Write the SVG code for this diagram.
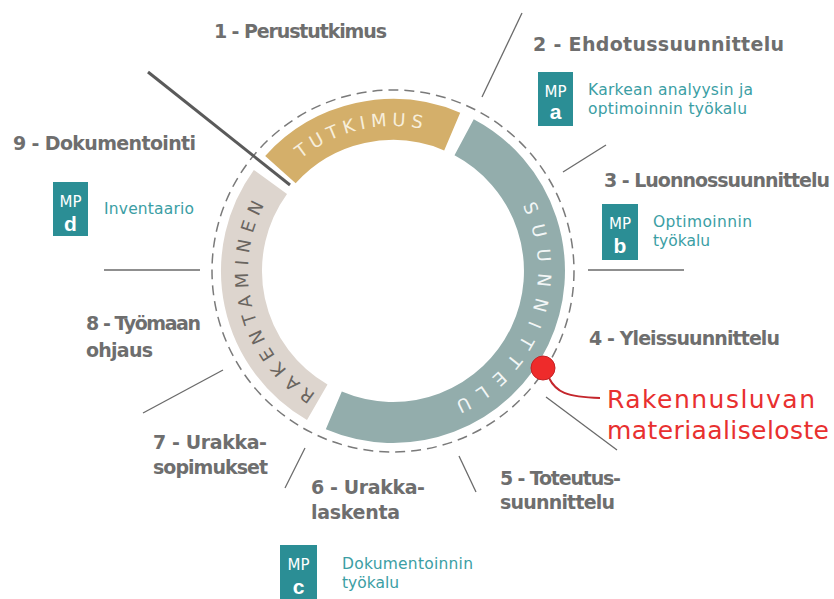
<svg xmlns="http://www.w3.org/2000/svg" width="834" height="599" viewBox="0 0 834 599">
<style>
.lbl{font-family:"DejaVu Sans","Liberation Sans",sans-serif;font-weight:bold;font-size:19px;fill:#6e6e6e}
.tl{font-family:"DejaVu Sans","Liberation Sans",sans-serif;font-size:15.5px;fill:#3b9ea4}
.box{fill:#2b8e95}
.mp{font-family:"DejaVu Sans","Liberation Sans",sans-serif;font-size:15px;fill:#ffffff;text-anchor:middle}
.mpl{font-family:"Liberation Sans",sans-serif;font-weight:bold;font-size:21px;fill:#ffffff;text-anchor:middle}
.ln{stroke:#6a6a6a;stroke-width:1.3;fill:none}
.seg{fill:none;stroke-width:41}
.ring{font-family:"DejaVu Sans","Liberation Sans",sans-serif;font-size:18px}
.red{font-family:"DejaVu Sans","Liberation Sans",sans-serif;font-size:25px;fill:#e8302f}
</style>
<defs>
<path id="pT" d="M249.41,291.18 A145,145 0 0 1 530.91,226.19"/>
<path id="pR" d="M415.68,414.21 A145,145 0 0 1 345.79,133.90"/>
<path id="pS" d="M456.57,140.67 A145,145 0 0 1 353.04,410.39"/>
</defs>
<rect width="834" height="599" fill="#ffffff"/>

<g id="connectors">
<circle cx="393" cy="271" r="181" fill="none" stroke="#7a7a7a" stroke-width="1.5" stroke-dasharray="10 6"/>
<line x1="148" y1="72" x2="290" y2="185" stroke="#5a5a5a" stroke-width="3"/>
<line class="ln" x1="522" y1="13" x2="482" y2="97"/>
<line class="ln" x1="563" y1="172" x2="606" y2="145"/>
<line class="ln" x1="588" y1="270" x2="684" y2="270"/>
<line class="ln" x1="546" y1="397" x2="617" y2="450"/>
<line class="ln" x1="459" y1="456" x2="476" y2="492"/>
<line class="ln" x1="305" y1="448" x2="285" y2="488"/>
<line class="ln" x1="143" y1="413" x2="223" y2="370"/>
<line class="ln" x1="104" y1="270" x2="200" y2="270"/>
<path d="M549,378 C556,392 566,397 600,398" fill="none" stroke="#c4262c" stroke-width="2"/>
</g>

<g id="ring-rakentaminen">
<path class="seg" stroke="#ddd5ce" d="M317.25,402.2 A151.5,151.5 0 0 1 270.43,181.95"/>
<text class="ring" fill="#6a6560" letter-spacing="6.7" text-anchor="middle"><textPath href="#pR" startOffset="50%">RAKENTAMINEN</textPath></text>
</g>
<g id="ring-tutkimus">
<path class="seg" stroke="#d4af6a" d="M280.42,169.63 A151.5,151.5 0 0 1 452.19,131.54"/>
<text class="ring" fill="#f7eedb" letter-spacing="5.2" text-anchor="middle"><textPath href="#pT" startOffset="50%">TUTKIMUS</textPath></text>
</g>
<g id="ring-suunnittelu">
<path class="seg" stroke="#93adac" d="M464.13,137.24 A151.5,151.5 0 0 1 333.81,410.46"/>
<text class="ring" fill="#f2f6f6" letter-spacing="10.6" text-anchor="middle"><textPath href="#pS" startOffset="50%">SUUNNITTELU</textPath></text>
</g>

<g id="marker-rakennuslupa">
<circle cx="543" cy="368" r="12" fill="#ee2b2b" stroke="#c42226" stroke-width="1"/>
<text class="red" x="607" y="408" textLength="208">Rakennusluvan</text>
<text class="red" x="607" y="439" textLength="222">materiaaliseloste</text>
</g>

<g id="n1"><text class="lbl" x="214" y="38" textLength="173">1 - Perustutkimus</text></g>
<g id="n2"><text class="lbl" x="533" y="51" textLength="251">2 - Ehdotussuunnittelu</text></g>
<g id="n3"><text class="lbl" x="604" y="187" textLength="226">3 - Luonnossuunnittelu</text></g>
<g id="n4"><text class="lbl" x="589" y="345" textLength="191">4 - Yleissuunnittelu</text></g>
<g id="n5"><text class="lbl" x="500" y="485" textLength="121">5 - Toteutus-</text><text class="lbl" x="500" y="509" textLength="115">suunnittelu</text></g>
<g id="n6"><text class="lbl" x="311" y="494" textLength="114">6 - Urakka-</text><text class="lbl" x="311" y="519" textLength="89">laskenta</text></g>
<g id="n7"><text class="lbl" x="153" y="449" textLength="114">7 - Urakka-</text><text class="lbl" x="153" y="474" textLength="115">sopimukset</text></g>
<g id="n8"><text class="lbl" x="86" y="330" textLength="115">8 - Työmaan</text><text class="lbl" x="86" y="357" textLength="67">ohjaus</text></g>
<g id="n9"><text class="lbl" x="13" y="150" textLength="183">9 - Dokumentointi</text></g>

<g id="mp-a">
<rect class="box" x="538" y="72" width="35" height="54"/>
<text class="mp" x="555.5" y="97">MP</text>
<text class="mpl" x="555.5" y="119">a</text>
<text class="tl" x="588" y="95" textLength="165">Karkean analyysin ja</text>
<text class="tl" x="588" y="114" textLength="159">optimoinnin työkalu</text>
</g>
<g id="mp-b">
<rect class="box" x="602" y="204" width="36" height="56"/>
<text class="mp" x="620" y="229">MP</text>
<text class="mpl" x="620" y="253">b</text>
<text class="tl" x="653" y="227" textLength="99">Optimoinnin</text>
<text class="tl" x="653" y="246">työkalu</text>
</g>
<g id="mp-c">
<rect class="box" x="280" y="545" width="37" height="56"/>
<text class="mp" x="298.5" y="570">MP</text>
<text class="mpl" x="298.5" y="594">c</text>
<text class="tl" x="342" y="569" textLength="131">Dokumentoinnin</text>
<text class="tl" x="342" y="588">työkalu</text>
</g>
<g id="mp-d">
<rect class="box" x="53" y="182" width="35" height="54"/>
<text class="mp" x="70.5" y="207">MP</text>
<text class="mpl" x="70.5" y="231">d</text>
<text class="tl" x="104" y="214" textLength="90">Inventaario</text>
</g>
</svg>
